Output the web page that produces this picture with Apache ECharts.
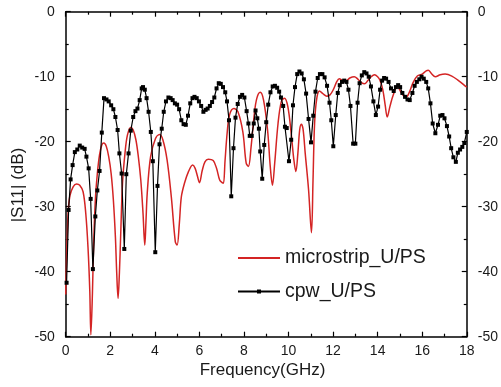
<!DOCTYPE html>
<html><head><meta charset="utf-8">
<script src="https://cdn.jsdelivr.net/npm/echarts@6/dist/echarts.min.js"></script>
<style>html,body{margin:0;padding:0;background:#fff}#c{width:501px;height:387px}</style>
</head><body><div id="c"></div>
<script>
const seriesNames = ['microstrip_U/PS', 'cpw_U/PS'];
const xAxisTitle = 'Frequency(GHz)';
const yAxisTitle = '|S11| (dB)';

const microstripFreq = [0.0,0.1,0.19,0.34,0.49,0.63,0.78,0.9,1.0,1.08,1.13,1.2,1.25,1.33,1.42,1.52,1.62,1.71,1.82,1.93,2.04,2.14,2.23,2.29,2.35,2.41,2.47,2.55,2.66,2.77,2.92,3.03,3.15,3.26,3.37,3.47,3.55,3.6,3.66,3.81,4.03,4.21,4.36,4.55,4.74,4.92,5.0,5.1,5.19,5.33,5.51,5.7,5.81,5.92,6.0,6.13,6.25,6.4,6.62,6.77,6.91,7.02,7.08,7.15,7.25,7.36,7.55,7.73,7.95,8.1,8.2,8.32,8.47,8.58,8.73,8.88,9.06,9.18,9.28,9.38,9.53,9.68,9.82,9.97,10.12,10.24,10.33,10.42,10.5,10.57,10.65,10.75,10.9,11.03,11.1,11.17,11.27,11.39,11.54,11.72,11.86,12.01,12.16,12.28,12.46,12.6,12.75,12.95,13.12,13.27,13.41,13.56,13.71,13.86,14.0,14.1,14.23,14.34,14.43,14.55,14.7,14.89,15.08,15.26,15.41,15.59,15.78,16.0,16.18,16.27,16.41,16.59,16.81,17.03,17.33,17.63,17.92,18.0];
const microstripS11 = [-43.5,-31.5,-28.3,-26.9,-26.5,-26.7,-27.7,-31.0,-36.2,-42.8,-49.7,-43.3,-36.2,-29.0,-24.9,-22.0,-20.5,-20.2,-20.7,-22.3,-24.9,-29.0,-34.6,-40.2,-44.1,-40.2,-34.1,-26.4,-21.8,-19.0,-17.8,-18.2,-19.7,-22.3,-25.9,-31.0,-35.9,-32.5,-27.9,-22.3,-19.5,-18.9,-19.7,-22.8,-28.5,-35.4,-35.9,-32.6,-28.5,-26.4,-24.6,-23.6,-24.1,-25.4,-26.3,-24.4,-23.1,-22.7,-22.9,-24.1,-25.9,-26.3,-26.4,-23.0,-18.5,-15.8,-14.9,-15.4,-18.5,-23.3,-23.8,-20.8,-15.6,-13.3,-12.4,-13.6,-18.2,-23.8,-26.7,-23.3,-17.2,-13.8,-13.3,-14.6,-18.7,-22.8,-24.6,-21.8,-18.2,-17.3,-18.0,-21.8,-27.4,-34.0,-25.9,-17.2,-13.3,-12.2,-12.6,-13.0,-12.8,-12.0,-10.8,-10.3,-10.6,-10.6,-10.2,-10.0,-10.4,-10.9,-11.1,-10.6,-10.0,-9.7,-10.0,-10.5,-12.0,-14.4,-16.2,-14.6,-12.8,-11.5,-12.6,-13.2,-12.5,-10.9,-9.9,-9.6,-9.1,-9.0,-9.5,-10.0,-9.7,-9.6,-9.9,-10.6,-11.4,-11.6];

const cpwFreq = [0.04,0.13,0.22,0.31,0.41,0.52,0.63,0.74,0.85,0.93,1.03,1.12,1.22,1.33,1.42,1.52,1.62,1.72,1.83,1.93,2.04,2.14,2.23,2.33,2.41,2.51,2.63,2.72,2.82,2.92,3.03,3.13,3.22,3.32,3.41,3.47,3.55,3.63,3.72,3.82,3.91,4.02,4.12,4.21,4.31,4.40,4.50,4.61,4.71,4.80,4.90,5.00,5.09,5.19,5.29,5.39,5.49,5.59,5.69,5.78,5.88,5.98,6.08,6.18,6.28,6.37,6.47,6.57,6.67,6.77,6.87,6.96,7.06,7.16,7.24,7.33,7.43,7.53,7.62,7.72,7.82,7.92,8.02,8.12,8.20,8.26,8.35,8.44,8.52,8.60,8.67,8.73,8.82,8.91,9.00,9.09,9.19,9.29,9.39,9.49,9.58,9.66,9.76,9.84,9.92,10.02,10.12,10.20,10.29,10.39,10.49,10.59,10.69,10.79,10.90,11.01,11.11,11.21,11.31,11.41,11.52,11.62,11.73,11.84,11.92,12.01,12.12,12.21,12.30,12.40,12.50,12.60,12.69,12.78,12.90,13.00,13.10,13.19,13.29,13.40,13.50,13.60,13.70,13.81,13.92,14.02,14.11,14.20,14.29,14.38,14.49,14.60,14.72,14.82,14.92,15.01,15.11,15.23,15.34,15.44,15.56,15.66,15.76,15.87,15.97,16.07,16.18,16.27,16.37,16.47,16.59,16.71,16.81,16.91,17.00,17.11,17.21,17.30,17.40,17.51,17.60,17.70,17.80,17.89,18.00];
const cpwS11 = [-41.7,-30.5,-25.8,-23.6,-21.6,-21.2,-20.6,-20.9,-21.1,-22.3,-24.1,-28.8,-39.6,-31.5,-27.5,-24.5,-18.6,-13.3,-13.5,-13.8,-14.4,-15.0,-16.2,-18.2,-21.8,-24.9,-36.5,-25.0,-21.8,-18.3,-16.2,-15.3,-14.9,-13.6,-11.8,-11.6,-12.0,-13.3,-15.4,-18.5,-23.0,-37.0,-26.8,-20.4,-18.0,-15.4,-13.8,-13.2,-13.3,-13.6,-14.1,-14.3,-15.0,-16.7,-17.3,-17.4,-16.0,-14.1,-13.3,-13.1,-13.3,-13.8,-14.5,-15.4,-15.1,-14.9,-14.5,-13.9,-13.2,-11.8,-11.0,-11.1,-11.6,-12.4,-13.8,-16.7,-28.4,-21.0,-16.3,-14.2,-13.1,-12.8,-13.2,-15.3,-17.2,-19.1,-19.1,-17.2,-15.2,-16.4,-18.0,-21.5,-25.7,-20.5,-17.0,-14.3,-12.4,-11.5,-11.4,-11.7,-12.3,-13.2,-14.5,-17.7,-17.9,-23.0,-19.7,-14.4,-11.6,-9.6,-9.2,-9.5,-10.4,-12.6,-16.5,-20.1,-16.0,-12.3,-10.2,-9.6,-9.6,-10.1,-11.4,-14.0,-16.7,-20.7,-15.9,-12.5,-11.3,-10.8,-10.6,-10.8,-12.0,-14.5,-20.3,-20.3,-14.0,-11.0,-9.8,-9.3,-9.5,-10.0,-11.5,-13.8,-15.9,-14.6,-12.0,-10.6,-10.2,-10.3,-10.8,-11.8,-12.2,-11.6,-11.3,-11.6,-12.5,-13.1,-13.5,-13.6,-12.5,-11.4,-10.8,-10.4,-10.0,-10.3,-10.8,-11.8,-14.1,-17.2,-18.7,-17.4,-16.0,-15.9,-16.4,-17.6,-19.2,-21.0,-22.4,-23.1,-21.7,-21.2,-20.8,-20.2,-18.5];

const pairs = (xs, ys) => xs.map((x, i) => [x, ys[i]]);
const FONT = '"Liberation Sans", Arial, sans-serif';
const TXT = '#1a1a1a';

const chart = echarts.init(document.getElementById('c'), null, { renderer: 'canvas' });

function xAx(pos, showLabel) {
  return {
    type: 'value', position: pos, min: 0, max: 18, interval: 2,
    axisLine: { show: true, onZero: false, lineStyle: { color: '#000', width: 1.5 } },
    axisTick: { show: true, inside: true, length: 5, lineStyle: { color: '#000', width: 1.2 } },
    minorTick: { show: true, splitNumber: 2, length: 3, lineStyle: { color: '#000', width: 1.2 } },
    axisLabel: { show: showLabel, fontSize: 14, color: TXT, margin: 7, fontFamily: FONT },
    splitLine: { show: false }, minorSplitLine: { show: false }
  };
}
function yAx(pos) {
  return {
    type: 'value', position: pos, min: -50, max: 0, interval: 10,
    axisLine: { show: true, onZero: false, lineStyle: { color: '#000', width: 1.5 } },
    axisTick: { show: true, inside: true, length: 5, lineStyle: { color: '#000', width: 1.2 } },
    minorTick: { show: true, splitNumber: 2, length: 3, lineStyle: { color: '#000', width: 1.2 } },
    axisLabel: { show: true, fontSize: 14, color: TXT, margin: 11, fontFamily: FONT },
    splitLine: { show: false }, minorSplitLine: { show: false }
  };
}

const option = {
  animation: false,
  backgroundColor: '#fff',
  grid: { left: 65.7, right: 29.3, top: 11.7, bottom: 50.3, containLabel: false },
  xAxis: [xAx('bottom', true), xAx('top', false)],
  yAxis: [yAx('left'), yAx('right')],
  legend: [
    { data: [seriesNames[0]], orient: 'vertical', left: 237, top: 248, padding: 0, itemWidth: 42, itemHeight: 20, itemGap: 0,
      itemStyle: { opacity: 0 },
      textStyle: { fontSize: 19.5, color: TXT, fontFamily: FONT } },
    { data: [seriesNames[1]], orient: 'vertical', left: 237, top: 281.5, padding: 0, itemWidth: 42, itemHeight: 5, itemGap: 0,
      textStyle: { fontSize: 19.5, color: TXT, fontFamily: FONT } }
  ],
  graphic: [
    { type: 'text', x: 262.5, y: 370, silent: true,
      style: { text: xAxisTitle, font: '17px ' + FONT, fill: TXT, align: 'center', verticalAlign: 'middle', textAlign: 'center', textVerticalAlign: 'middle' } },
    { type: 'text', x: 18.5, y: 185, rotation: Math.PI / 2, silent: true,
      style: { text: yAxisTitle, font: '17px ' + FONT, fill: TXT, align: 'center', verticalAlign: 'middle', textAlign: 'center', textVerticalAlign: 'middle' } }
  ],
  series: [
    { name: seriesNames[0], type: 'line', xAxisIndex: 0, yAxisIndex: 0,
      data: pairs(microstripFreq, microstripS11), smooth: 0.35, showSymbol: false, symbol: 'none',
      lineStyle: { color: '#d42424', width: 1.5 }, itemStyle: { color: '#d42424' } },
    { name: seriesNames[1], type: 'line', xAxisIndex: 0, yAxisIndex: 0,
      data: pairs(cpwFreq, cpwS11), symbol: 'rect', symbolSize: 4, showSymbol: true, legendIcon: 'rect',
      lineStyle: { color: '#000', width: 1.2 }, itemStyle: { color: '#000' } }
  ]
};
chart.setOption(option);
</script></body></html>
